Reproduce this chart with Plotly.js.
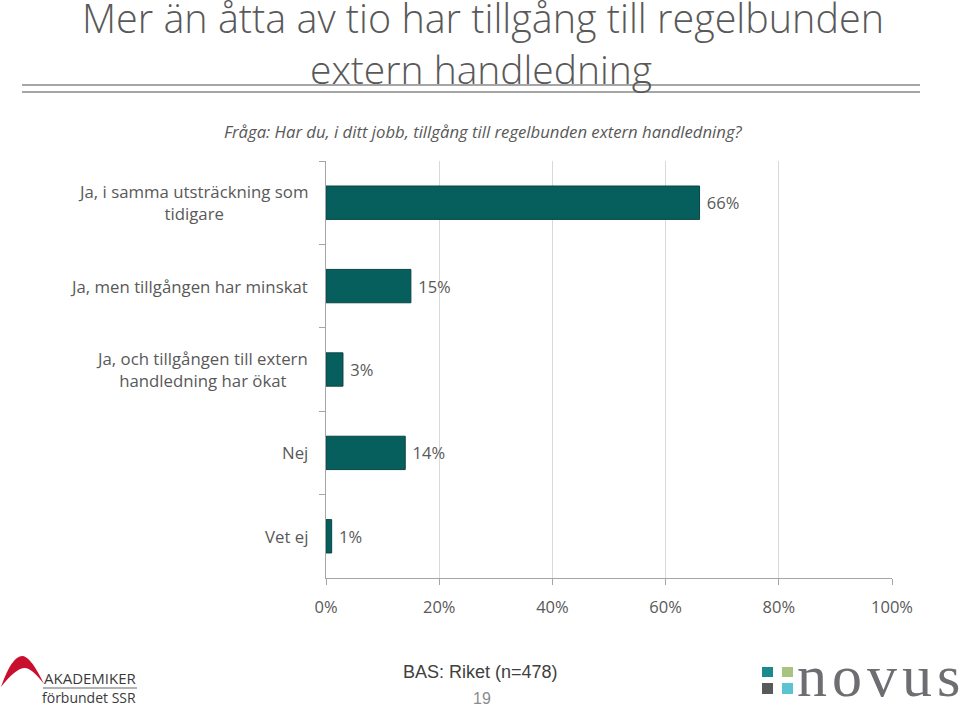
<!DOCTYPE html>
<html>
<head>
<meta charset="utf-8">
<script src="https://cdn.plot.ly/plotly-3.0.1.min.js"></script>
<style>html,body{margin:0;padding:0;background:#fff;}#chart{width:960px;height:708px;}</style>
</head>
<body>
<div id="chart"></div>
<script>
// ---- data ----
const categories = [
  "Ja, i samma utsträckning som<br>tidigare",
  "Ja, men tillgången har minskat",
  "Ja, och tillgången till extern<br>handledning har ökat",
  "Nej",
  "Vet ej"
];
const values = [66, 15, 3, 14, 1];
const tickVals = [0, 20, 40, 60, 80, 100];
const tickText = ["0%", "20%", "40%", "60%", "80%", "100%"];
const titleLines = ["Mer än åtta av tio har tillgång till regelbunden", "extern handledning"];
const question = "Fråga: Har du, i ditt jobb, tillgång till regelbunden extern handledning?";
const baseText = "BAS: Riket (n=478)";
const pageNo = "19";

// ---- layout helpers ----
const W = 960, H = 708;
const M = {l: 326, r: 68, t: 161, b: 130};
const PW = W - M.l - M.r, PH = H - M.t - M.b;
const px = x => (x - M.l) / PW;
const py = y => (M.t + PH - y) / PH;

const font = "'Open Sans', Lato, sans-serif";
const grey = "#595959";
const narrow = "'Liberation Sans', Arial, sans-serif";

const annotations = [];
categories.forEach(c => {
  annotations.push({
    xref: "paper", yref: "y", x: 0, y: c, xshift: -16,
    xanchor: "right", yanchor: "middle", align: "center",
    text: c, showarrow: false,
    font: {family: font, size: 16.8, color: grey}
  });
});
annotations.push({xref:"paper", yref:"paper", x: px(483), y: py(18), text: titleLines[0], showarrow:false, borderpad: 0,
  xanchor:"center", yanchor:"middle", font:{family: font, size: 39.5, color: grey, weight: 300}});
annotations.push({xref:"paper", yref:"paper", x: px(481), y: py(68), text: titleLines[1], showarrow:false, borderpad: 0,
  xanchor:"center", yanchor:"middle", font:{family: font, size: 39, color: grey, weight: 300}});
annotations.push({xref:"paper", yref:"paper", x: px(483), y: py(131), text: "<i>" + question + "</i>", showarrow:false,
  xanchor:"center", yanchor:"middle", font:{family: font, size: 16.7, color: grey}});
annotations.push({xref:"paper", yref:"paper", x: px(480), y: py(672), text: baseText, showarrow:false,
  xanchor:"center", yanchor:"middle", font:{family: narrow, size: 18, color: "#404040"}});
annotations.push({xref:"paper", yref:"paper", x: px(482), y: py(698), text: pageNo, showarrow:false,
  xanchor:"center", yanchor:"middle", font:{family: narrow, size: 16, color: "#8c8c8c"}});
// Akademiker logo text
annotations.push({xref:"paper", yref:"paper", x: px(42), y: py(678), text: "AKADEMIKER", showarrow:false,
  xanchor:"left", yanchor:"middle", font:{family: font, size: 15, color: "#3a3a3a"}});
annotations.push({xref:"paper", yref:"paper", x: px(40), y: py(697), text: "förbundet SSR", showarrow:false,
  xanchor:"left", yanchor:"middle", font:{family: font, size: 14, color: "#3a3a3a"}});
// novus logo text
annotations.push({xref:"paper", yref:"paper", x: px(795), y: py(676), text: "n\u200Ao\u200Av\u200Au\u200As", showarrow:false,
  xanchor:"left", yanchor:"middle", font:{family: "'Liberation Serif', 'DejaVu Serif', serif", size: 60, color: "#6d6e71"}});

function rectPx(x0, y0, x1, y1, color) {
  return {type:"rect", xref:"paper", yref:"paper", x0: px(x0), x1: px(x1), y0: py(y0), y1: py(y1),
    fillcolor: color, line:{width:0}, layer:"above"};
}
const shapes = [
  {type:"line", xref:"paper", yref:"paper", x0: px(22), x1: px(920), y0: py(85), y1: py(85), line:{color:"#a6a6a6", width:2}},
  {type:"line", xref:"paper", yref:"paper", x0: px(22), x1: px(920), y0: py(92), y1: py(92), line:{color:"#a6a6a6", width:2}},
  // akademiker arch
  {type:"path", xref:"paper", yref:"paper",
    path: "M " + px(1) + "," + py(687) + " Q " + px(12) + "," + py(655) + " " + px(23) + "," + py(656) +
          " Q " + px(31) + "," + py(657) + " " + px(44) + "," + py(684) +
          " Q " + px(31) + "," + py(667) + " " + px(24) + "," + py(668) +
          " Q " + px(15) + "," + py(669) + " " + px(1) + "," + py(687) + " Z",
    fillcolor:"#c8102e", line:{width:0}},
  {type:"line", xref:"paper", yref:"paper", x0: px(43), x1: px(137), y0: py(688), y1: py(688), line:{color:"#666", width:1}},
  // novus squares
  rectPx(762, 667, 773, 677, "#1b8a8c"),
  rectPx(782, 667, 793, 677, "#a9c47f"),
  rectPx(762, 683, 773, 694, "#58595b"),
  rectPx(782, 683, 793, 694, "#5bc4d1")
];

const trace = {
  type: "bar", orientation: "h",
  y: categories, x: values,
  marker: {color: "#065f5c", line: {color: "#0b4542", width: 1}},
  texttemplate: " %{x}%", textposition: "outside", cliponaxis: false,
  textfont: {family: font, size: 16.5, color: grey},
  hoverinfo: "skip"
};

const layout = {
  width: W, height: H,
  margin: M,
  paper_bgcolor: "#fff", plot_bgcolor: "#fff",
  showlegend: false,
  bargap: 0.6,
  xaxis: {
    range: [0, 100], tickvals: tickVals, ticktext: tickText,
    showgrid: true, gridcolor: "#d9d9d9", gridwidth: 1,
    showline: true, linecolor: "#a6a6a6", linewidth: 1,
    ticks: "outside", ticklen: 6, tickcolor: "#a6a6a6",
    ticklabelstandoff: 8,
    tickfont: {family: font, size: 16.5, color: grey},
    zeroline: false, fixedrange: true
  },
  yaxis: {
    type: "category", range: [4.5, -0.5],
    showticklabels: false, showgrid: false,
    showline: true, linecolor: "#a6a6a6", linewidth: 1,
    ticks: "outside", ticklen: 6, tickcolor: "#a6a6a6", tickson: "boundaries",
    zeroline: false, fixedrange: true
  },
  annotations: annotations,
  shapes: shapes
};

Plotly.newPlot("chart", [trace], layout, {displayModeBar: false, staticPlot: true});
</script>
</body>
</html>
